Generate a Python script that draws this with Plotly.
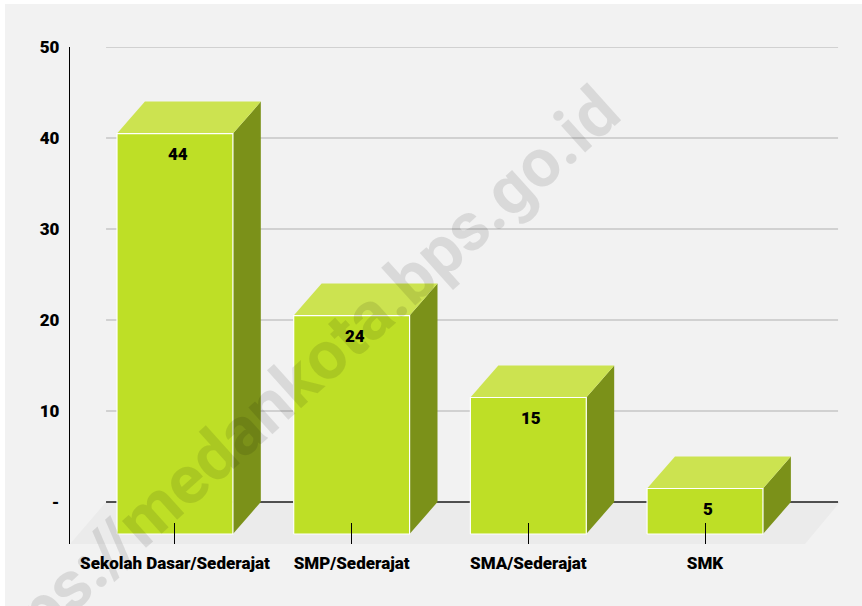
import plotly.graph_objects as go

# ---- data ----
categories = ["Sekolah Dasar/Sederajat", "SMP/Sederajat", "SMA/Sederajat", "SMK"]
values = [44, 24, 15, 5]
y_tick_vals = [0, 10, 20, 30, 40, 50]
y_tick_text = ["-", "10", "20", "30", "40", "50"]
watermark = "https://medankota.bps.go.id"

# ---- styling / geometry (data units) ----
BAR_HALF = 0.328
DEPTH_X, DEPTH_Y = 0.158, 3.516      # bar depth offset
FLOOR_DX, FLOOR_DY = 0.204, 4.615    # floor depth
X_RANGE = [-0.594, 3.764]
Y_RANGE = [-FLOOR_DY, 50]
GRID_X0, GRID_X1 = -0.39, 3.753

FRONT = "#bedf26"
TOP = "#cce350"
SIDE = "#7b9119"
BG = "#f2f2f2"
FONT = "Roboto, Liberation Sans, Arial, sans-serif"

xs = list(range(len(categories)))

fig = go.Figure()

shapes = []
# floor
shapes.append(dict(type="path", xref="x", yref="y", layer="below",
                   path=f"M {X_RANGE[0]} {-FLOOR_DY} L {X_RANGE[0]+FLOOR_DX} 0 "
                        f"L {X_RANGE[1]} 0 L {X_RANGE[1]-FLOOR_DX*0.97} {-FLOOR_DY} Z",
                   fillcolor="#ebebeb", line=dict(width=0)))
# gridlines
for v in y_tick_vals:
    shapes.append(dict(type="line", xref="x", yref="y", layer="below",
                       x0=GRID_X0, x1=GRID_X1, y0=v, y1=v,
                       line=dict(color="#1a1a1a" if v == 0 else "#c6c6c6",
                                 width=1.3 if v == 0 else 1.6)))
# white outer strips (top / left)
shapes.append(dict(type="rect", xref="paper", yref="paper", layer="above",
                   x0=-0.2, x1=-65/770, y0=-0.2, y1=1.2, fillcolor="white", line=dict(width=0)))
shapes.append(dict(type="rect", xref="paper", yref="paper", layer="above",
                   x0=-0.2, x1=1.2, y0=(544-4)/497, y1=1.2, fillcolor="white", line=dict(width=0)))

# 3D bars
for x, v in zip(xs, values):
    xl, xr = x - BAR_HALF, x + BAR_HALF
    yb, yt = -DEPTH_Y, v - DEPTH_Y
    # side face
    fig.add_trace(go.Scatter(
        x=[xr, xr + DEPTH_X, xr + DEPTH_X, xr, xr],
        y=[yb, 0, v, yt, yb], fill="toself", fillcolor=SIDE,
        mode="lines", line=dict(width=0), hoverinfo="skip", showlegend=False))
    # top face
    fig.add_trace(go.Scatter(
        x=[xl, xl + DEPTH_X, xr + DEPTH_X, xr, xl],
        y=[yt, v, v, yt, yt], fill="toself", fillcolor=TOP,
        mode="lines", line=dict(width=0), hoverinfo="skip", showlegend=False))
    # front face
    fig.add_trace(go.Scatter(
        x=[xl, xr, xr, xl, xl],
        y=[yb, yb, yt, yt, yb], fill="toself", fillcolor=FRONT,
        mode="lines", line=dict(width=1.2, color="white"), hoverinfo="skip", showlegend=False))

annotations = []
for x, v in zip(xs, values):
    annotations.append(dict(x=x, y=v - DEPTH_Y, xref="x", yref="y", text=str(v),
                            showarrow=False, yanchor="top", yshift=-8, xshift=3,
                            font=dict(family=FONT, size=17, color="black", weight=900)))

annotations.append(dict(x=(287-70)/770, y=(544-390)/497, xref="paper", yref="paper",
                        xanchor="center", yanchor="middle",
                        text=watermark, showarrow=False, textangle=-42,
                        font=dict(family=FONT, size=68, color="rgba(0,0,0,0.1)", weight=700)))

fig.update_layout(
    width=862, height=606,
    margin=dict(l=70, r=22, t=47, b=62),
    paper_bgcolor=BG, plot_bgcolor=BG,
    shapes=shapes, annotations=annotations,
    showlegend=False,
    xaxis=dict(range=X_RANGE, tickvals=xs, ticktext=categories,
               showgrid=False, zeroline=False, showline=False,
               ticks="inside", ticklen=21, tickcolor="black", tickwidth=1.3,
               ticklabelstandoff=7,
               tickfont=dict(family=FONT, size=17, color="black", weight=900),
               fixedrange=True),
    yaxis=dict(range=Y_RANGE, tickvals=y_tick_vals, ticktext=y_tick_text,
               showgrid=False, zeroline=False, showline=True,
               linecolor="black", linewidth=1.3, ticks="",
               ticklabelstandoff=6,
               tickfont=dict(family=FONT, size=17, color="black", weight=900),
               fixedrange=True),
)

fig.write_html("out.html", config={"displayModeBar": False},
               post_script="document.body.style.margin='0px';")
